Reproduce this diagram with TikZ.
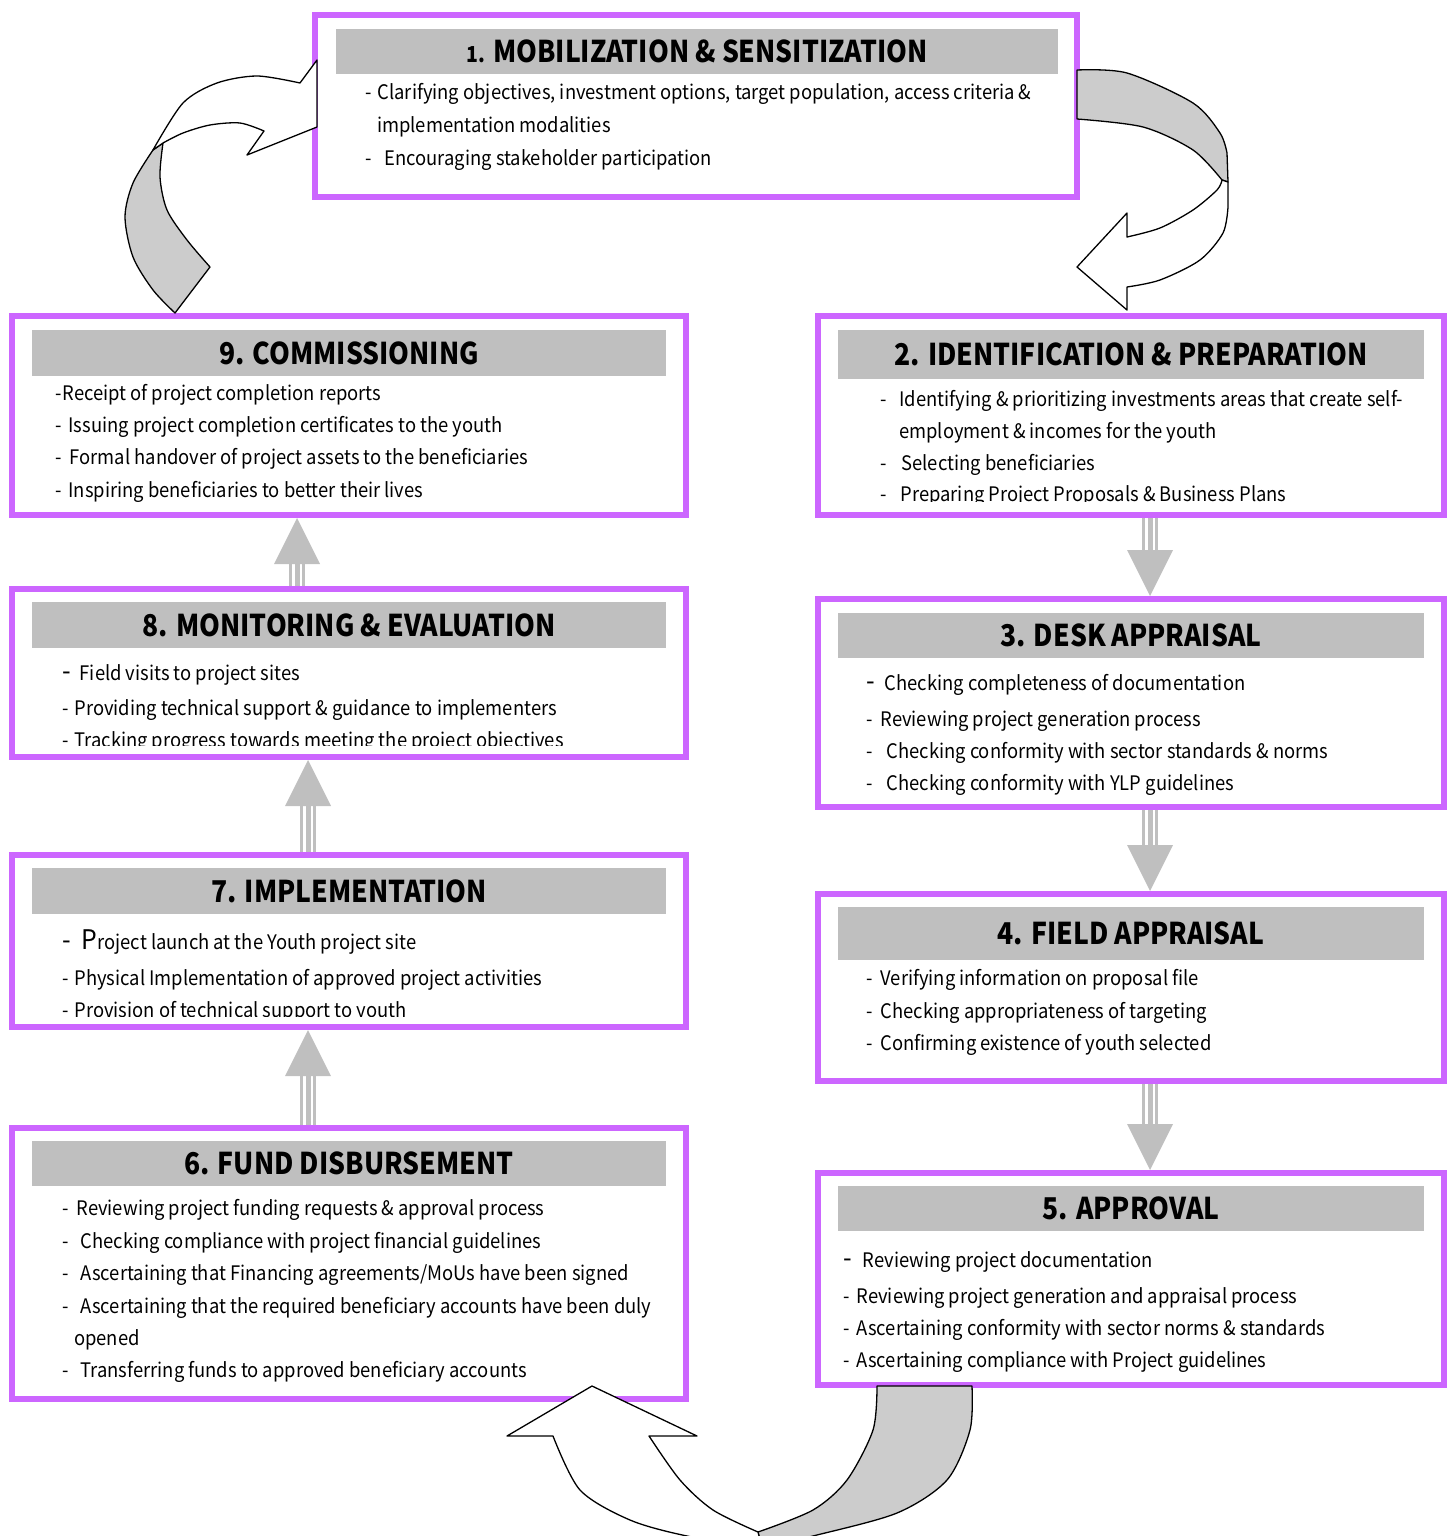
\documentclass[tikz,border=0pt]{standalone}
\usepackage{fontspec}
\setmainfont{Noto Sans CJK KR}[FakeStretch=0.92]
\newfontfamily\titlefont{Noto Sans CJK KR}[FakeStretch=0.885]
\usetikzlibrary{calc, arrows.meta}
\definecolor{stagepurple}{RGB}{204,102,255}
\definecolor{headgray}{RGB}{191,191,191}
\definecolor{bandgray}{RGB}{204,204,204}
\newcommand{\dsh}[1]{-\hspace{#1pt}}
\newcommand{\bigdsh}[1]{{\fontsize{27}{27}\selectfont -}\hspace{#1pt}}
\tikzset{
	stage/.style={
		draw=stagepurple,
		line width=6pt,
		fill=white,
		inner sep=0pt
	},
	head/.style={
		fill=headgray,
		inner sep=0pt,
		font=\titlefont\fontsize{30}{32}\selectfont\bfseries
	},
	item/.style={
		anchor=west,
		inner sep=0pt,
		text height=16pt,
		text depth=0pt,
		font=\fontsize{20}{24}\selectfont
	},
	rails/.style={draw=headgray, line width=3pt, double=white, double distance=10pt},
	rail/.style={draw=headgray, line width=5pt, -{Triangle[width=46pt, length=46pt, line width=0pt]}},
	band/.style={draw=black, line width=1.3pt, line join=round}
}

\begin{document}
\begin{tikzpicture}[x=1pt, y=-1pt]
\useasboundingbox (0,0) rectangle (1450,1536);
\clip (0,0) rectangle (1450,1536);

% stage boxes
\node[stage, minimum width=762, minimum height=182] (b1) at (696,106) {};
\node[stage, minimum width=626, minimum height=199] (b2) at (1131,415.5) {};
\node[stage, minimum width=626, minimum height=208] (b3) at (1131,703) {};
\node[stage, minimum width=626, minimum height=187] (b4) at (1131,987.5) {};
\node[stage, minimum width=626, minimum height=212] (b5) at (1131,1279) {};
\node[stage, minimum width=674, minimum height=271] (b6) at (349,1263.5) {};
\node[stage, minimum width=674, minimum height=172] (b7) at (349,941) {};
\node[stage, minimum width=674, minimum height=168] (b8) at (349,673) {};
\node[stage, minimum width=674, minimum height=199] (b9) at (349,415.5) {};

% headings
\node[head, minimum width=722, minimum height=45] (h1) at (697,51.5) {{\fontsize{22}{22}\selectfont 1.} MOBILIZATION \& SENSITIZATION};
\node[head, minimum width=586, minimum height=49] (h2) at (1131,354.5) {2. IDENTIFICATION \& PREPARATION};
\node[head, minimum width=586, minimum height=45] (h3) at (1131,635.5) {3. DESK APPRAISAL};
\node[head, minimum width=586, minimum height=53] (h4) at (1131,933.5) {4. FIELD APPRAISAL};
\node[head, minimum width=586, minimum height=45] (h5) at (1131,1208.5) {5. APPROVAL};
\node[head, minimum width=634, minimum height=45] (h6) at (349,1163.5) {6. FUND DISBURSEMENT};
\node[head, minimum width=634, minimum height=46] (h7) at (349,891) {7. IMPLEMENTATION};
\node[head, minimum width=634, minimum height=46] (h8) at (349,625) {8. MONITORING \& EVALUATION};
\node[head, minimum width=634, minimum height=46] (h9) at (349,353) {9. COMMISSIONING};

% activities
\foreach \x/\y/\t in {365/92/{\dsh{6}Clarifying objectives, investment options, target population, access criteria \&},
	377/124/{implementation modalities},
	365/157/{\dsh{13}Encouraging stakeholder participation}}
	\node[item] (t1-\y) at (\x,\y) {\t};
\begin{scope}
\clip (818,316) rectangle (1444,501);
\foreach \x/\y/\t in {880/398/{\dsh{13}Identifying \& prioritizing investments areas that create self-},
	899/430/{employment \& incomes for the youth},
	880/462/{\dsh{15}Selecting beneficiaries},
	880/493/{\dsh{14}Preparing Project Proposals \& Business Plans}}
	\node[item] (t2-\y) at (\x,\y) {\t};
\end{scope}
\foreach \x/\y/\t in {866/682/{\bigdsh{10}Checking completeness of documentation},
	866/718/{\dsh{8}Reviewing project generation process},
	866/750/{\dsh{14}Checking conformity with sector standards \& norms},
	866/782/{\dsh{14}Checking conformity with YLP guidelines}}
	\node[item] (t3-\y) at (\x,\y) {\t};
\foreach \x/\y/\t in {866/977/{\dsh{8}Verifying information on proposal file},
	866/1010/{\dsh{8}Checking appropriateness of targeting},
	866/1042/{\dsh{8}Confirming existence of youth selected}}
	\node[item] (t4-\y) at (\x,\y) {\t};
\foreach \x/\y/\t in {843/1259/{\bigdsh{11}Reviewing project documentation},
	843/1295/{\dsh{7}Reviewing project generation and appraisal process},
	843/1327/{\dsh{7}Ascertaining conformity with sector norms \& standards},
	843/1359/{\dsh{7}Ascertaining compliance with Project guidelines}}
	\node[item] (t5-\y) at (\x,\y) {\t};
\foreach \x/\y/\t in {62/1207/{\dsh{8}Reviewing project funding requests \& approval process},
	62/1240/{\dsh{12}Checking compliance with project financial guidelines},
	62/1272/{\dsh{12}Ascertaining that Financing agreements/MoUs have been signed},
	62/1305/{\dsh{12}Ascertaining that the required beneficiary accounts have been duly},
	74/1337/{opened},
	62/1369/{\dsh{12}Transferring funds to approved beneficiary accounts}}
	\node[item] (t6-\y) at (\x,\y) {\t};
\begin{scope}
\clip (12,855) rectangle (686,1016);
\foreach \x/\y/\t in {62/941/{\bigdsh{11}{\fontsize{27}{27}\selectfont P}roject launch at the Youth project site},
	62/977/{\dsh{6}Physical Implementation of approved project activities},
	62/1009/{\dsh{6}Provision of technical support to youth}}
	\node[item] (t7-\y) at (\x,\y) {\t};
\end{scope}
\begin{scope}
\clip (12,589) rectangle (686,745);
\foreach \x/\y/\t in {62/672/{\bigdsh{9}Field visits to project sites},
	62/707/{\dsh{6}Providing technical support \& guidance to implementers},
	62/739/{\dsh{6}Tracking progress towards meeting the project objectives}}
	\node[item] (t8-\y) at (\x,\y) {\t};
\end{scope}
\foreach \x/\y/\t in {55/392/{\dsh{1}Receipt of project completion reports},
	55/424/{\dsh{7}Issuing project completion certificates to the youth},
	55/456/{\dsh{8}Formal handover of project assets to the beneficiaries},
	55/489/{\dsh{7}Inspiring beneficiaries to better their lives}}
	\node[item] (t9-\y) at (\x,\y) {\t};

% straight flow arrows
\foreach \a/\b/\dx in {b2.south/b3.north/19, b3.south/b4.north/19, b4.south/b5.north/19,
	b6.north/b7.south/-41, b7.north/b8.south/-41, b8.north/b9.south/-52} {
	\coordinate (s) at ($(\a)+(\dx,0)$);
	\coordinate (e) at ($(\b)+(\dx,0)$);
	\draw[rails] (s) -- ($(e)!46pt!(s)$);
	\draw[rail] (s) -- (e);
}

% curved arrow 1 -> 2
\filldraw[band, fill=bandgray] plot[smooth] coordinates {(1077,70) (1127,73) (1193,103) (1220,133) (1227,153)}
	-- (1228,182) -- plot[smooth] coordinates {(1222,180) (1193,150) (1143,127) (1077,119)} -- cycle;
\filldraw[band, fill=white] plot[smooth] coordinates {(1222,180) (1217,190) (1193,210) (1160,228) (1127,237)}
	-- (1127,213) -- (1077,267) -- (1127,310) -- (1127,287)
	-- plot[smooth] coordinates {(1127,287) (1160,280) (1200,260) (1223,233) (1228,207)} -- (1228,182) -- cycle;

% curved arrow 5 -> 6
\filldraw[band, fill=bandgray] (877,1386) -- (972,1386)
	-- plot[smooth] coordinates {(972,1386) (970,1430) (947,1480) (897,1513) (813,1536) (762,1548)}
	-- plot[smooth] coordinates {(758,1532) (813,1510) (847,1480) (873,1430) (877,1386)} -- cycle;
\filldraw[band, fill=white] (592,1386) -- (697,1436) -- (649,1436)
	-- plot[smooth] coordinates {(649,1436) (680,1480) (713,1510) (758,1532)} -- (762,1548)
	-- plot[smooth] coordinates {(762,1548) (687,1536) (630,1520) (580,1490) (553,1436)} -- (507,1436) -- cycle;

% curved arrow 9 -> 1
\filldraw[band, fill=bandgray] plot[smooth] coordinates {(153,150) (133,183) (125,217) (133,257) (153,290) (175,313)}
	-- (210,267) -- plot[smooth] coordinates {(210,267) (187,240) (167,210) (160,177) (163,143)} -- cycle;
\filldraw[band, fill=white] plot[smooth] coordinates {(153,150) (183,103) (217,83) (257,76) (300,83)}
	-- (317,60) -- (317,127) -- (247,155) -- (264,131)
	-- plot[smooth] coordinates {(264,131) (240,123) (210,125) (183,133) (163,143)} -- cycle;
\end{tikzpicture}
\end{document}
